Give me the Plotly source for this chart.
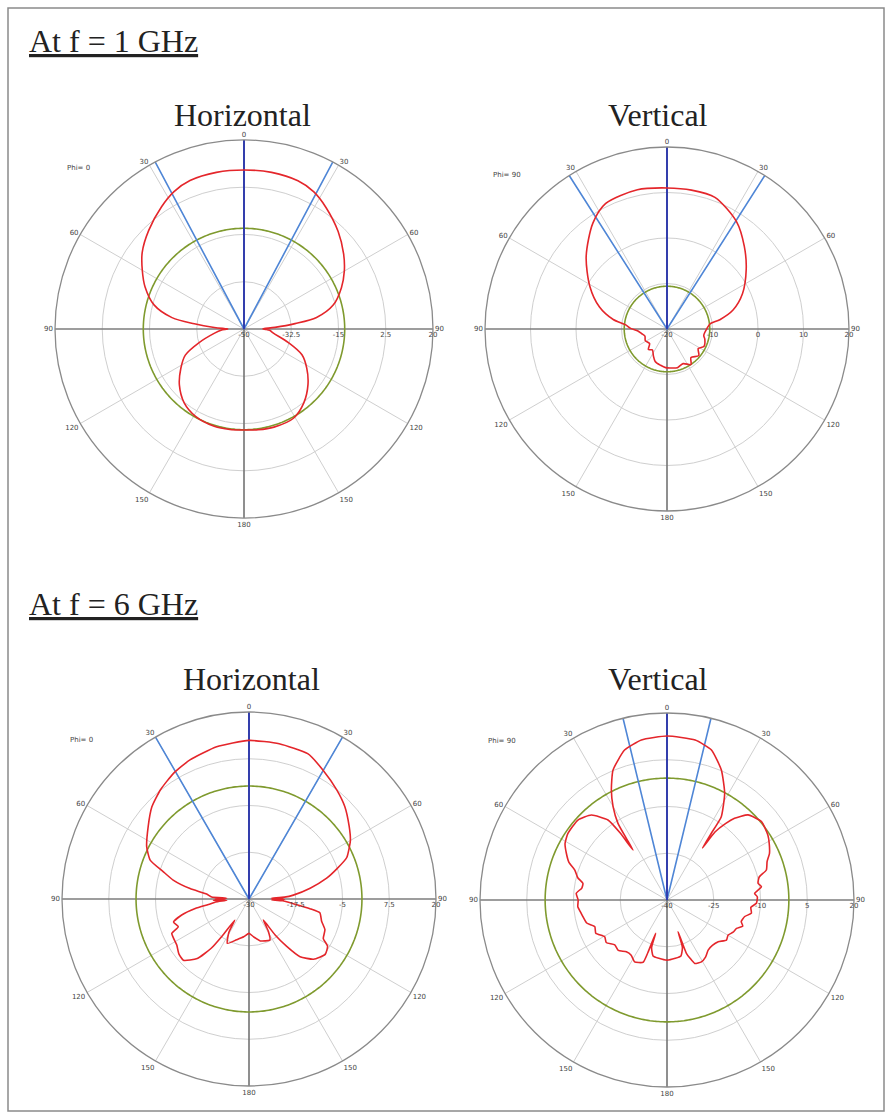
import numpy as np
import plotly.graph_objects as go

W, H = 888, 1114

# ---------------- data ----------------
ang_vals = [0, 30, 60, 90, 120, 150, 180, 210, 240, 270, 300, 330]
ang_text = ["0", "30", "60", "90", "120", "150", "180", "150", "120", "90", "60", "30"]

# 1 GHz horizontal (Phi = 0)
h1_range = [-50, 20]
h1_ticks = ["-50", "-32.5", "-15", "2.5", "20"]
h1_theta = [0, 10, 20, 27, 34, 44, 53, 60, 67, 75, 81, 84, 87, 89, 90, 91, 93, 98, 107, 114,
            122, 131, 141, 151, 163, 172, 180, 188, 197, 209, 219, 229, 238, 246, 253, 262,
            267, 269, 270, 271, 273, 276, 279, 285, 293, 300, 307, 316, 326, 333, 340, 350, 360]
h1_db = [8.9, 8.9, 8.4, 7.0, 4.3, 0.2, -3.8, -7.1, -10.8, -15.8, -22.8, -31.0, -38.5, -42.5,
         -43.0, -42.0, -40.5, -39.0, -32.8, -26.5, -22.6, -18.6, -14.8, -12.2, -12.0, -12.3,
         -12.6, -12.4, -12.3, -13.0, -14.8, -18.3, -22.4, -26.2, -32.5, -39.0, -41.5, -43.5,
         -44.0, -43.0, -39.0, -31.5, -23.0, -15.5, -10.2, -6.5, -2.8, 0.8, 4.6, 7.1, 8.5,
         8.9, 8.9]
h1_sll = -12.7
h1_beam = 28

# 1 GHz vertical (Phi = 90)
v1_range = [-20, 20]
v1_ticks = ["-20", "-10", "0", "10", "20"]
v1_theta = [0, 10, 20, 33, 43, 53, 65, 74, 80, 83, 89, 100, 105, 115, 122, 130, 140, 146,
            155, 165, 175, 182, 190, 200, 207, 215, 222, 230, 242, 252, 260, 266, 271, 276,
            280, 288, 299, 312, 325, 334, 348, 360]
v1_db = [11.0, 11.0, 10.8, 8.1, 4.9, 1.8, -1.7, -4.9, -8.2, -10.4, -11.2, -11.8, -11.4,
         -11.0, -11.9, -10.9, -11.8, -10.6, -11.6, -11.2, -11.4, -11.5, -11.9, -12.4, -13.4,
         -14.4, -13.9, -15.0, -14.6, -14.9, -14.3, -13.6, -12.0, -10.8, -8.0, -4.4, -0.6,
         3.9, 8.4, 10.7, 11.3, 11.0]
v1_sll = -10.6
v1_beam = 32.5

# 6 GHz horizontal (Phi = 0)
h6_range = [-30, 20]
h6_ticks = ["-30", "-17.5", "-5", "7.5", "20"]
h6_theta = [0, 11, 22, 30, 39, 46, 54, 60, 67, 71, 75, 80, 85, 87, 88, 89, 90, 91, 92, 93,
            96, 99, 101, 107, 112, 118, 121, 126, 133, 138.5, 141.5, 144, 145.7, 149, 153,
            165, 173, 180, 188, 197, 206, 211, 214, 216, 217.5, 221, 227, 232, 237.5, 246,
            248.6, 253, 256.6, 260, 262.7, 265, 267, 268, 269, 270, 272, 273, 276.7, 280,
            284, 287.7, 291.5, 297, 305.7, 313.5, 321, 329, 337, 348, 360]
h6_db = [12.4, 12.3, 11.9, 9.7, 7.4, 5.6, 3.1, 1.3, -1.6, -5.1, -8.5, -13.4, -18.1, -20.5,
         -24.0, -21.0, -23.0, -20.5, -24.0, -21.0, -18.1, -13.5, -10.7, -9.7, -8.1, -7.5,
         -5.5, -4.8, -6.4, -9.4, -13.8, -18.1, -23.2, -20.0, -17.7, -18.4, -19.8, -20.8,
         -19.8, -18.6, -16.8, -19.5, -23.2, -17.8, -13.4, -8.9, -6.0, -6.2, -7.1, -7.4,
         -9.7, -8.9, -11.5, -15.4, -19.5, -21.0, -24.0, -20.5, -23.5, -21.0, -24.0, -20.0,
         -18.6, -14.0, -9.1, -5.9, -1.6, 0.7, 3.2, 5.8, 7.6, 9.2, 10.4, 11.6, 12.4]
h6_sll = 0.2
h6_beam = 30

# 6 GHz vertical (Phi = 90)
v6_range = [-40, 20]
v6_ticks = ["-40", "-25", "-10", "5", "20"]
v6_theta = [0, 10, 16.5, 22.7, 28.4, 33.1, 33.6, 34.3, 35.2, 37.5, 39.6, 43.6, 50.3, 57.2,
            61, 65.6, 69, 73.2, 76, 79.6, 82, 85.7, 88, 92.1, 95, 98.9, 102, 106.2, 109,
            112.2, 116, 119.8, 124, 129.2, 135, 140.6, 146, 150.9, 156.4, 158.5, 160, 160.8,
            162, 166, 171.9, 180, 188, 194, 198, 198.8, 200, 201, 207.7, 213, 218.2, 224,
            229.3, 235, 239.5, 245, 249.8, 254, 258.8, 262, 265.7, 270, 274.2, 278, 281.2,
            284, 288, 291, 294.9, 299, 303.9, 311.9, 318.3, 323.6, 325, 325.8, 326.6, 327.4,
            330, 333.2, 337.4, 344.2, 350.9, 360]
v6_db = [12.6, 12.1, 10.2, 5.2, -1.1, -8.1, -14.3, -19.8, -13.3, -9.0, -6.0, -2.3, -0.6,
         -1.5, -2.5, -3.9, -5.6, -6.7, -9.5, -10.3, -9.4, -11.8, -11.0, -11.3, -13.0, -12.6,
         -14.5, -15.2, -14.3, -15.9, -16.4, -17.4, -17.0, -18.8, -19.4, -19.2, -17.9, -17.3,
         -17.8, -20.0, -21.8, -29.2, -24.0, -21.5, -21.1, -20.7, -21.1, -21.5, -24.0, -28.7,
         -22.0, -18.6, -17.6, -18.9, -18.9, -17.5, -17.9, -16.2, -16.8, -14.8, -15.3, -13.2,
         -12.5, -12.0, -11.3, -11.5, -10.8, -12.4, -12.5, -10.5, -8.9, -6.3, -4.4, -2.6,
         -1.7, -1.6, -3.5, -8.1, -13.6, -20.6, -16.3, -10.8, -5.4, -0.4, 5.1, 10.0, 12.0,
         12.6]
v6_sll = -0.9
v6_beam = 13.6

# ---------------- figure ----------------
RED = "#e4262b"
BLUE_MAIN = "#2a36b0"
BLUE_BW = "#4f86d6"
GREEN = "#7f9a2e"
AXIS_DARK = "#555555"
GRID = "#cfcfcf"

plots = [
    dict(name="polar", cx=244, cy=329, R=189, rng=h1_range, ticks=h1_ticks, th=h1_theta,
         db=h1_db, sll=h1_sll, bw=h1_beam, phi="Phi= 0", smooth=0.9),
    dict(name="polar2", cx=667, cy=329, R=182, rng=v1_range, ticks=v1_ticks, th=v1_theta,
         db=v1_db, sll=v1_sll, bw=v1_beam, phi="Phi= 90", smooth=0.8),
    dict(name="polar3", cx=249, cy=899, R=187, rng=h6_range, ticks=h6_ticks, th=h6_theta,
         db=h6_db, sll=h6_sll, bw=h6_beam, phi="Phi= 0", smooth=0.5),
    dict(name="polar4", cx=667, cy=900, R=187, rng=v6_range, ticks=v6_ticks, th=v6_theta,
         db=v6_db, sll=v6_sll, bw=v6_beam, phi="Phi= 90", smooth=0.5),
]

fig = go.Figure()
layout_polars = {}
annotations = []

for p in plots:
    sp = p["name"]
    rmin, rmax = p["rng"]
    step = (rmax - rmin) / 4
    tickvals = [rmin + k * step for k in range(5)]
    # dark main axes
    fig.add_trace(go.Scatterpolar(r=[rmax, rmin, rmax], theta=[0, 0, 180], mode="lines",
                                  line=dict(color=AXIS_DARK, width=1.2), subplot=sp,
                                  showlegend=False, hoverinfo="skip"))
    fig.add_trace(go.Scatterpolar(r=[rmax, rmin, rmax], theta=[90, 90, 270], mode="lines",
                                  line=dict(color=AXIS_DARK, width=1.2), subplot=sp,
                                  showlegend=False, hoverinfo="skip"))
    # side lobe level circle
    ring_t = np.linspace(0, 360, 361)
    fig.add_trace(go.Scatterpolar(r=[p["sll"]] * len(ring_t), theta=ring_t, mode="lines",
                                  line=dict(color=GREEN, width=1.6), subplot=sp,
                                  showlegend=False, hoverinfo="skip"))
    # beamwidth lines
    fig.add_trace(go.Scatterpolar(r=[rmax, rmin, rmax], theta=[360 - p["bw"], 0, p["bw"]],
                                  mode="lines", line=dict(color=BLUE_BW, width=1.6),
                                  subplot=sp, showlegend=False, hoverinfo="skip"))
    fig.add_trace(go.Scatterpolar(r=[rmin, rmax], theta=[0, 0], mode="lines",
                                  line=dict(color=BLUE_MAIN, width=1.8), subplot=sp,
                                  showlegend=False, hoverinfo="skip"))
    # pattern
    fig.add_trace(go.Scatterpolar(r=p["db"], theta=p["th"], mode="lines",
                                  line=dict(color=RED, width=1.6, shape="spline",
                                            smoothing=p["smooth"]),
                                  subplot=sp, showlegend=False))
    cx, cy, R = p["cx"], p["cy"], p["R"]
    layout_polars[sp] = dict(
        domain=dict(x=[(cx - R) / W, (cx + R) / W], y=[(H - cy - R) / H, (H - cy + R) / H]),
        bgcolor="white",
        angularaxis=dict(rotation=90, direction="clockwise", tickmode="array",
                         tickvals=ang_vals, ticktext=ang_text, showgrid=True,
                         gridcolor=GRID, gridwidth=1, showline=True, linecolor="#8a8a8a",
                         linewidth=1.3, ticks="", tickfont=dict(size=7, color="#444",
                                                                 family="DejaVu Sans")),
        radialaxis=dict(range=[rmin, rmax], tickmode="array", tickvals=tickvals,
                        ticktext=p["ticks"], angle=0, showline=False, showgrid=True,
                        gridcolor=GRID, gridwidth=1.2, ticks="", tickangle=0,
                        side="clockwise",
                        tickfont=dict(size=7, color="#444", family="DejaVu Sans")),
    )
    annotations.append(dict(x=(cx - R + 10 - (4 if R < 188 else 0)) / W,
                            y=(H - (cy - R + 28)) / H, xref="paper", yref="paper",
                            text=p["phi"], showarrow=False, xanchor="left",
                            yanchor="middle", font=dict(size=7, color="#444",
                                                        family="DejaVu Sans")))

TITLE_FONT = dict(family="Liberation Serif", size=32, color="#222")
texts = [
    ("<u>At f = 1 GHz</u>", 27, 41, "left"),
    ("Horizontal", 243, 115, "center"),
    ("Vertical", 658, 115, "center"),
    ("<u>At f = 6 GHz</u>", 27, 604, "left"),
    ("Horizontal", 251, 679, "center"),
    ("Vertical", 658, 679, "center"),
]
for t, x, y, xa in texts:
    annotations.append(dict(x=x / W, y=(H - y) / H, xref="paper", yref="paper", text=t,
                            showarrow=False, xanchor=xa, yanchor="middle",
                            font=TITLE_FONT))

fig.update_layout(
    width=W, height=H, margin=dict(l=0, r=0, t=0, b=0),
    paper_bgcolor="white", plot_bgcolor="white",
    showlegend=False, annotations=annotations,
    shapes=[dict(type="rect", xref="paper", yref="paper", x0=8 / W, x1=884 / W,
                 y0=(H - 1111) / H, y1=(H - 8) / H, line=dict(color="#8a8a8a", width=1.5))],
    **layout_polars,
)

fig.write_html("out.html", config={"displayModeBar": False},
               post_script="document.body.style.margin='0px';document.body.style.padding='0px';")
